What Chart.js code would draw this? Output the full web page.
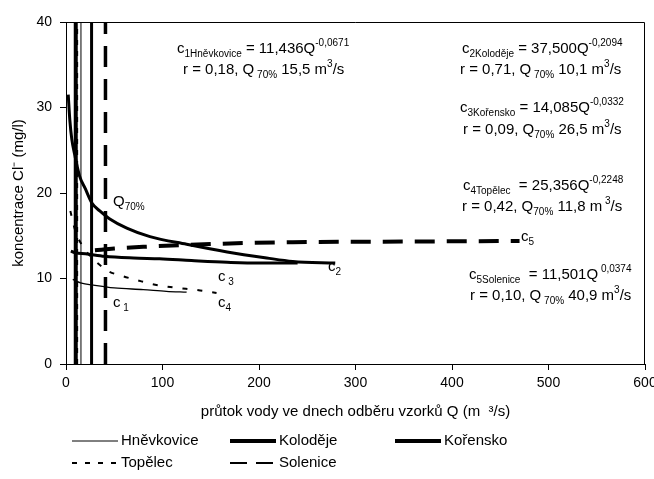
<!DOCTYPE html>
<html>
<head>
<meta charset="utf-8">
<script src="https://cdn.jsdelivr.net/npm/chart.js@4.4.0/dist/chart.umd.min.js"></script>
<style>
  html, body { margin: 0; padding: 0; background: #fff; }
</style>
</head>
<body>
<canvas id="chlorid" width="654" height="479"></canvas>
<script>
// průtok Q (m3/s) a koncentrace Cl- (mg/l) podél regresních křivek
const qHnevkovice = [7, 15, 30, 50, 80, 104, 125];
const cHnevkovice = [9.9, 9.5, 9.2, 8.9, 8.7, 8.5, 8.4];

const qKolodeje = [2.3, 4, 6, 9, 14, 20, 27, 35, 45, 63, 87, 125, 167, 208, 235, 279];
const cKolodeje = [31.5, 28.5, 26.3, 24.5, 22.0, 20.5, 18.8, 17.9, 17.0, 15.9, 14.9, 14.0, 13.1, 12.4, 12.0, 11.8];

const qKorensko = [5, 10, 20, 40, 70, 97, 130, 167, 200, 240];
const cKorensko = [13.2, 13.0, 12.9, 12.6, 12.4, 12.3, 12.1, 11.9, 11.8, 11.8];

const qTopelec = [4.5, 9.3, 16.6, 42, 58, 74, 87, 108, 139, 156];
const cTopelec = [17.9, 15.7, 13.9, 11.0, 10.3, 9.8, 9.4, 9.0, 8.6, 8.3];

const qSolenice = [30, 50, 80, 120, 170, 235, 320, 400, 470];
const cSolenice = [13.3, 13.5, 13.7, 13.9, 14.1, 14.25, 14.3, 14.35, 14.4];

// Q70% jednotlivých profilů
const stanice = ['Hněvkovice', 'Koloděje', 'Kořensko', 'Topělec', 'Solenice'];
const q70 = [15.5, 10.1, 26.5, 11.8, 40.9];

const xTicks = [0, 100, 200, 300, 400, 500, 600];
const yTicks = [0, 10, 20, 30, 40];

const FONT = '"Liberation Sans", Arial, sans-serif';
Chart.defaults.font.family = FONT;
Chart.defaults.color = '#000';

// styl čar: křivka, svislice Q70% a vzorek v legendě
const styly = {
  'Hněvkovice': { w: 1.3, dash: [], vw: 1, vdash: [], lw: 1, ldash: [] },
  'Koloděje':   { w: 3, dash: [], vw: 4, vdash: [], lw: 4, ldash: [] },
  'Kořensko':   { w: 3, dash: [], vw: 3, vdash: [], lw: 4, ldash: [] },
  'Topělec':    { w: 2, dash: [5, 10], vw: 1.5, vdash: [5, 6], lw: 2, ldash: [5, 8] },
  'Solenice':   { w: 4, dash: [20, 12], vw: 3.5, vdash: [21, 12], lw: 2, ldash: [17, 9] }
};

const krivky = [
  [qHnevkovice, cHnevkovice],
  [qKolodeje, cKolodeje],
  [qKorensko, cKorensko],
  [qTopelec, cTopelec],
  [qSolenice, cSolenice]
];

const datasets = [];
stanice.forEach((name, i) => {
  const s = styly[name];
  datasets.push({
    label: name,
    data: krivky[i][0].map((q, k) => ({ x: q, y: krivky[i][1][k] })),
    showLine: true,
    borderColor: '#000',
    borderWidth: s.w,
    borderDash: s.dash,
    pointRadius: 0,
    cubicInterpolationMode: 'monotone',
    legenda: true
  });
});
stanice.forEach((name, i) => {
  const s = styly[name];
  datasets.push({
    label: name + ' Q70%',
    data: [{ x: q70[i], y: yTicks[0] }, { x: q70[i], y: yTicks[yTicks.length - 1] }],
    showLine: true,
    borderColor: '#000',
    borderWidth: s.vw,
    borderDash: s.vdash,
    pointRadius: 0
  });
});

// text s dolními a horními indexy
function rich(ctx, x, y, parts, size) {
  let cx = x;
  ctx.textBaseline = 'middle';
  ctx.textAlign = 'left';
  parts.forEach(p => {
    const kind = p[1] || '';
    let dy = 0;
    if (kind === 'sub') { ctx.font = '10px ' + FONT; dy = 5; }
    else if (kind === 'sup') { ctx.font = '10px ' + FONT; dy = -6; }
    else ctx.font = size + 'px ' + FONT;
    ctx.fillText(p[0], cx, y + dy);
    cx += ctx.measureText(p[0]).width;
  });
}

const rovnice = [
  [177, 49, [['c'], ['1Hněvkovice', 'sub'], [' = 11,436Q'], ['-0,0671', 'sup']]],
  [183, 70, [['r = 0,18, Q'], [' 70%', 'sub'], [' 15,5 m'], ['3', 'sup'], ['/s']]],
  [462, 49, [['c'], ['2Koloděje', 'sub'], [' = 37,500Q'], ['-0,2094', 'sup']]],
  [460, 70, [['r = 0,71, Q'], [' 70%', 'sub'], [' 10,1 m'], ['3', 'sup'], ['/s']]],
  [460, 108, [['c'], ['3Kořensko', 'sub'], [' = 14,085Q'], ['-0,0332', 'sup']]],
  [463, 130, [['r = 0,09, Q'], ['70%', 'sub'], [' 26,5 m'], ['3', 'sup'], ['/s']]],
  [463, 186, [['c'], ['4Topělec', 'sub'], ['  = 25,356Q'], ['-0,2248', 'sup']]],
  [462, 207, [['r = 0,42, Q'], ['70%', 'sub'], [' 11,8 m'], [' 3', 'sup'], ['/s']]],
  [469, 275, [['c'], ['5Solenice', 'sub'], ['  = 11,501Q'], [' 0,0374', 'sup']]],
  [470, 296, [['r = 0,10, Q'], [' 70%', 'sub'], [' 40,9 m'], ['3', 'sup'], ['/s']]]
];

const popisky = [
  [113, 202, [['Q'], ['70%', 'sub']]],
  [113, 303, [['c'], [' 1', 'sub']]],
  [328, 267, [['c'], ['2', 'sub']]],
  [218, 277, [['c'], [' 3', 'sub']]],
  [218, 303, [['c'], ['4', 'sub']]],
  [521, 237, [['c'], ['5', 'sub']]]
];

const doplnky = {
  id: 'doplnky',
  afterDraw(chart) {
    const { ctx, chartArea: a } = chart;
    ctx.save();
    // rámeček grafu
    ctx.strokeStyle = '#000';
    ctx.lineWidth = 1;
    ctx.beginPath();
    ctx.moveTo(a.left, a.top + 0.5);
    ctx.lineTo(a.right - 0.5, a.top + 0.5);
    ctx.lineTo(a.right - 0.5, a.bottom);
    ctx.stroke();

    ctx.fillStyle = '#000';
    rovnice.forEach(r => rich(ctx, r[0], r[1], r[2], 15));
    popisky.forEach(r => rich(ctx, r[0], r[1], r[2], 15));

    // legenda ve třech sloupcích
    const sloupce = [72, 230, 395];
    const radky = [441, 463];
    chart.data.datasets.filter(d => d.legenda).forEach((d, i) => {
      const s = styly[d.label];
      const x = sloupce[i % 3];
      const y = radky[Math.floor(i / 3)];
      ctx.beginPath();
      ctx.lineWidth = s.lw;
      ctx.setLineDash(s.ldash);
      ctx.moveTo(x, y);
      ctx.lineTo(x + 46, y);
      ctx.stroke();
      ctx.setLineDash([]);
      ctx.font = '15px ' + FONT;
      ctx.textBaseline = 'middle';
      ctx.fillText(d.label, x + 49, y);
    });
    ctx.restore();
  }
};

new Chart(document.getElementById('chlorid'), {
  type: 'scatter',
  data: { datasets },
  options: {
    responsive: false,
    animation: false,
    layout: { padding: { top: 22, right: 9, bottom: 0, left: 0 } },
    plugins: { legend: { display: false }, tooltip: { enabled: false } },
    scales: {
      x: {
        type: 'linear', min: 0, max: 600,
        afterBuildTicks: s => { s.ticks = xTicks.map(v => ({ value: v })); },
        ticks: { font: { size: 14 }, padding: 5, maxRotation: 0, autoSkip: false },
        grid: { drawOnChartArea: false, tickLength: 6, color: '#000' },
        border: { color: '#000', width: 1 },
        title: {
          display: true,
          text: 'průtok vody ve dnech odběru vzorků Q (m  ³/s)',
          font: { size: 15 },
          padding: { top: 0, bottom: 58 }
        },
        afterFit: s => { s.height = 115; s.paddingLeft = 0; s.paddingRight = 0; }
      },
      y: {
        type: 'linear', min: 0, max: 40,
        afterBuildTicks: s => { s.ticks = yTicks.map(v => ({ value: v })); },
        ticks: { font: { size: 14 }, padding: 8 },
        grid: { drawOnChartArea: false, tickLength: 6, color: '#000' },
        border: { color: '#000', width: 1 },
        title: {
          display: true,
          text: 'koncentrace Cl⁻ (mg/l)',
          font: { size: 15 },
          padding: { top: 10, bottom: 0 }
        },
        afterFit: s => { s.width = 66; s.paddingTop = 0; s.paddingBottom = 0; }
      }
    }
  },
  plugins: [doplnky]
});
</script>
</body>
</html>
